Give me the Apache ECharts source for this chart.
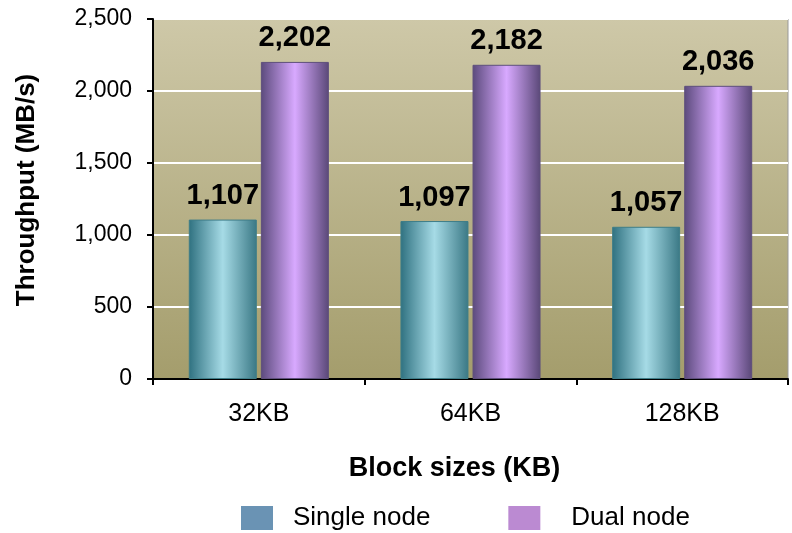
<!DOCTYPE html>
<html><head><meta charset="utf-8">
<script src="https://cdn.jsdelivr.net/npm/echarts@6/dist/echarts.min.js"></script>
<style>html,body{margin:0;padding:0;background:#fff}#c{width:792px;height:533px}</style>
</head><body><div id="c"></div>
<script>
var categories = ['32KB', '64KB', '128KB'];
var singleNode = [1107, 1097, 1057];
var dualNode = [2202, 2182, 2036];
var yTicks = {min: 0, max: 2500, interval: 500};

var FONT = '"Liberation Sans", Arial, sans-serif';
function grad(edge, mid, edge2) {
  return new echarts.graphic.LinearGradient(0, 0, 1, 0, [
    {offset: 0, color: edge}, {offset: 0.5, color: mid}, {offset: 1, color: edge2}
  ]);
}
function fmt(v) { return Number(v).toLocaleString('en-US'); }
var chart = echarts.init(document.getElementById('c'));
chart.setOption({
  animation: false,
  textStyle: {fontFamily: FONT},
  grid: {left: 153, right: 4, top: 19, bottom: 154, show: true, borderColor: '#999', borderWidth: 1,
    backgroundColor: new echarts.graphic.LinearGradient(0, 0, 0, 1, [
      {offset: 0, color: '#cec8a8'}, {offset: 1, color: '#a49d6c'}
    ])},
  legend: {
    bottom: 2, left: 241, itemGap: 78, itemWidth: 32, itemHeight: 24, padding: 0,
    itemStyle: {borderWidth: 0},
    textStyle: {fontSize: 26, color: '#000', fontFamily: FONT, padding: [0, 0, 0, 15]},
    data: [
      {name: 'Single node', itemStyle: {color: '#6a93b4', borderWidth: 0}, icon: 'rect'},
      {name: 'Dual node', itemStyle: {color: '#bb8ad2', borderWidth: 0}, icon: 'rect',
        textStyle: {padding: [0, 0, 0, 26]}}
    ]
  },
  xAxis: {
    type: 'category', data: categories,
    name: 'Block sizes (KB)', nameLocation: 'middle', nameGap: 76,
    nameTextStyle: {fontSize: 27, fontWeight: 'bold', color: '#000', padding: [0, 32, 0, 0]},
    axisLine: {lineStyle: {color: '#000', width: 2}},
    axisTick: {show: true, length: 6, lineStyle: {color: '#000', width: 2}},
    axisLabel: {fontSize: 25, color: '#000', margin: 23}
  },
  yAxis: {
    type: 'value', min: yTicks.min, max: yTicks.max, interval: yTicks.interval,
    name: 'Throughput (MB/s)', nameLocation: 'middle', nameGap: 113,
    nameTextStyle: {fontSize: 26, fontWeight: 'bold', color: '#000', padding: [0, 0, 0, 18]},
    axisLine: {show: true, lineStyle: {color: '#000', width: 2}},
    axisTick: {show: true, length: 6, lineStyle: {color: '#000', width: 2}},
    axisLabel: {fontSize: 23, color: '#000', margin: 21, formatter: fmt},
    splitLine: {lineStyle: {color: '#fff', width: 2}}
  },
  series: [
    {name: 'Single node', type: 'bar', data: singleNode, barWidth: 68, barGap: '6%',
      itemStyle: {color: grad('#2f7180', '#a6dbe6', '#3a7885'), borderColor: '#3e7d88', borderWidth: 1},
      label: {show: true, position: 'top', distance: 9, fontSize: 29, fontWeight: 'bold', color: '#000',
        formatter: function (p) { return fmt(p.value); }}},
    {name: 'Dual node', type: 'bar', data: dualNode, barWidth: 68,
      itemStyle: {color: grad('#5b4a7c', '#d8a9ff', '#5a4878'), borderColor: '#5e4f7c', borderWidth: 1},
      label: {show: true, position: 'top', distance: 9, fontSize: 29, fontWeight: 'bold', color: '#000',
        formatter: function (p) { return fmt(p.value); }}}
  ]
});
</script></body></html>
